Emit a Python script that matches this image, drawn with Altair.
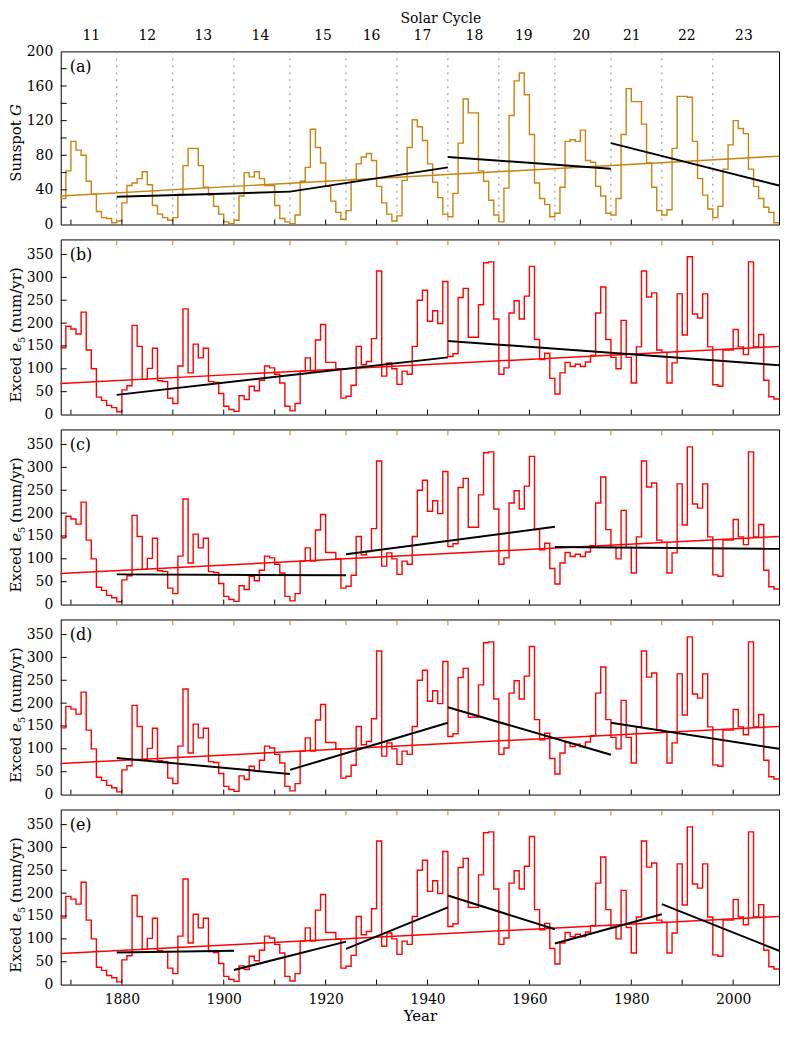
import altair as alt
import pandas as pd

# ---------------- data ----------------
years = list(range(1868, 2009))

sunspot_g = [
    30, 62, 96, 86, 80, 50, 35, 15, 8, 7,          # 1868-1877
    2, 4, 25, 45, 48, 53, 61, 46, 22, 12,          # 1878-1887
    8, 5, 8, 35, 68, 88, 88, 68, 43, 34,           # 1888-1897
    21, 12, 3, 1, 5, 33, 60, 55, 61, 53,           # 1898-1907
    45, 45, 22, 7, 3, 1, 11, 50, 66, 110,          # 1908-1917
    89, 71, 44, 27, 14, 6, 16, 52, 70, 78,         # 1918-1927
    82, 74, 44, 25, 12, 4, 10, 51, 89, 121,        # 1928-1937
    113, 97, 70, 49, 31, 12, 9, 36, 94, 145,       # 1938-1947
    129, 129, 62, 50, 28, 11, 3, 42, 126, 166,     # 1948-1957
    175, 150, 104, 48, 30, 23, 9, 13, 43, 96,      # 1958-1967
    98, 96, 109, 74, 72, 44, 33, 13, 11, 30,       # 1968-1977
    104, 157, 142, 142, 116, 71, 43, 16, 11, 17,   # 1978-1987
    88, 148, 148, 147, 96, 53, 34, 18, 8, 21,      # 1988-1997
    64, 92, 120, 111, 105, 64, 44, 30, 20, 14,     # 1998-2007
    2,                                             # 2008
]

exced_e5 = [
    146, 193, 187, 176, 224, 141, 100, 38, 31, 20,   # 1868-1877
    15, 6, 54, 63, 195, 149, 77, 101, 145, 74,       # 1878-1887
    72, 36, 24, 106, 231, 91, 154, 124, 145, 72,     # 1888-1897
    70, 46, 18, 11, 7, 41, 33, 62, 52, 75,           # 1898-1907
    106, 102, 88, 69, 18, 8, 24, 95, 124, 95,        # 1908-1917
    163, 197, 114, 114, 100, 36, 40, 64, 149, 109,   # 1918-1927
    116, 166, 314, 84, 113, 100, 66, 95, 88, 149,    # 1928-1937
    250, 272, 204, 227, 199, 291, 127, 133, 256, 276,  # 1938-1947
    169, 169, 240, 332, 334, 209, 88, 102, 222, 249,   # 1948-1957
    209, 259, 324, 164, 120, 134, 79, 45, 91, 114,     # 1958-1967
    105, 110, 105, 115, 129, 222, 279, 164, 125, 100,  # 1968-1977
    206, 125, 69, 148, 314, 257, 266, 141, 136, 69,    # 1978-1987
    113, 264, 174, 345, 220, 211, 264, 148, 65, 62,    # 1988-1997
    141, 141, 186, 148, 131, 334, 148, 175, 75, 39,    # 1998-2007
    34,                                                # 2008
]

x_domain = [1868, 2009]
year_labels = [1880, 1900, 1920, 1940, 1960, 1980, 2000]
year_minor_ticks = [1870, 1880, 1890, 1900, 1910, 1920, 1930, 1940, 1950, 1960, 1970, 1980, 1990, 2000]

cycle_bounds = [1879, 1890, 1902, 1913, 1924, 1934, 1944, 1954, 1965, 1976, 1986, 1996]
cycle_numbers = ["11", "12", "13", "14", "15", "16", "17", "18", "19", "20", "21", "22", "23"]
cycle_label_years = [1874, 1885, 1896, 1907.2, 1919.5, 1929, 1939, 1949.2, 1958.9, 1970.2, 1980.1, 1990.9, 2002.1]

trend_years = [1868, 2009]
sunspot_trend = [33, 79]
exced_trend = [68, 149]

# segments: (start year, start value, end year, end value)
segs_a = [(1879, 32, 1913, 38), (1913, 38, 1944, 66), (1944, 78, 1976, 64.5), (1976, 94, 2009, 45)]
segs_b = [(1879, 43, 1944, 125), (1944, 161, 2009, 108)]
segs_c = [(1879, 66, 1924, 64), (1924, 110, 1965, 170), (1965, 126, 2009, 122)]
segs_d = [(1879, 80, 1913, 45), (1913, 54, 1944, 157), (1944, 191, 1976, 87), (1976, 157, 2009, 100)]
segs_e = [(1879, 70, 1902, 74), (1902, 32, 1924, 94), (1924, 78, 1944, 169),
          (1944, 195, 1965, 121), (1965, 90, 1986, 154), (1986, 176, 2009, 74)]

# ---------------- style ----------------
FONT = "DejaVu Serif"
ORANGE = "#C8820F"
RED = "#FF0000"
W = 722
H_A = 174
H_B = 176

xscale = alt.Scale(domain=x_domain, nice=False, zero=False)


def one(txt):
    return pd.DataFrame({"t": [txt]})


def make_panel(letter, h, ydom, ylabels, yticks, series, color, trend_vals, segs,
               title_pieces, bottom=False, is_a=False):
    yscale = alt.Scale(domain=ydom, nice=False, zero=False)
    if bottom:
        xaxis = alt.Axis(values=year_labels, format="d", title="Year", ticks=False, domain=False,
                         grid=False, labelPadding=8, titlePadding=2, labelFontSize=14,
                         titleFontSize=15, titleFontWeight="normal", labelFlush=False)
    else:
        xaxis = alt.Axis(labels=False, ticks=False, domain=False, grid=False, title=None)
    yaxis = alt.Axis(values=ylabels, ticks=False, domain=False, grid=False, title=None,
                     labelPadding=8, labelFontSize=14)
    xe = alt.X("year:Q", scale=xscale, axis=xaxis)
    ye = alt.Y("value:Q", scale=yscale, axis=yaxis)

    layers = []
    if is_a:
        layers.append(
            alt.Chart(pd.DataFrame({"year": cycle_bounds}))
            .mark_rule(color="#8a8a8a", strokeDash=[2, 5], strokeWidth=1)
            .encode(x=xe, y=alt.value(0), y2=alt.value(h))
        )

    step_df = pd.DataFrame({"year": years + [x_domain[1]], "value": series + [series[-1]]})
    layers.append(
        alt.Chart(step_df).mark_line(interpolate="step-after", color=color, strokeWidth=1.4)
        .encode(x=xe, y=ye)
    )
    layers.append(
        alt.Chart(pd.DataFrame({"year": trend_years, "value": trend_vals}))
        .mark_line(color=color, strokeWidth=1.5).encode(x=xe, y=ye)
    )
    rows = []
    for i, (y0, v0, y1, v1) in enumerate(segs):
        rows.append({"seg": i, "year": y0, "value": v0})
        rows.append({"seg": i, "year": y1, "value": v1})
    layers.append(
        alt.Chart(pd.DataFrame(rows)).mark_line(color="black", strokeWidth=2)
        .encode(x=xe, y=ye, detail="seg:N")
    )
    # inward ticks
    layers.append(
        alt.Chart(pd.DataFrame({"year": year_minor_ticks})).mark_rule(color="black", strokeWidth=1)
        .encode(x=xe, y=alt.value(h), y2=alt.value(h - 5))
    )
    layers.append(
        alt.Chart(pd.DataFrame({"value": yticks})).mark_rule(color="black", strokeWidth=1)
        .encode(y=ye, x=alt.value(0), x2=alt.value(6))
    )
    if is_a:
        layers.append(
            alt.Chart(pd.DataFrame({"year": cycle_label_years, "t": cycle_numbers}))
            .mark_text(font=FONT, fontSize=14, baseline="alphabetic", color="black")
            .encode(x=xe, y=alt.value(-11), text="t:N")
        )
        layers.append(
            alt.Chart(one("Solar Cycle"))
            .mark_text(font=FONT, fontSize=14, baseline="alphabetic", color="black")
            .encode(x=alt.value(382), y=alt.value(-29), text="t:N")
        )
        # invisible mark that fixes the outer extent (left and top)
        layers.append(
            alt.Chart(one("x")).mark_rule(opacity=0, strokeWidth=1)
            .encode(x=alt.value(-52), x2=alt.value(-51), y=alt.value(-40), y2=alt.value(-40))
        )
    else:
        layers.append(
            alt.Chart(pd.DataFrame({"year": cycle_bounds})).mark_rule(color=ORANGE, strokeWidth=1)
            .encode(x=xe, y=alt.value(0), y2=alt.value(6))
        )
    # panel letter
    layers.append(
        alt.Chart(one(letter)).mark_text(font=FONT, fontSize=16, align="left",
                                         baseline="alphabetic", color="black")
        .encode(x=alt.value(9), y=alt.value(21), text="t:N")
    )
    # composite y title
    c = h / 2
    for txt, off, size, style, dy in title_pieces:
        layers.append(
            alt.Chart(one(txt)).mark_text(font=FONT, fontSize=size, fontStyle=style, angle=270,
                                          align="left", baseline="alphabetic", dy=dy,
                                          color="black")
            .encode(x=alt.value(-40), y=alt.value(c + off), text="t:N")
        )
    return alt.layer(*layers).properties(width=W, height=h)


title_a = [("Sunspot", 44, 15, "normal", 0), ("G", -22, 15, "italic", 0)]
title_e = [("Exced", 76, 15, "normal", 0), ("e", 25, 15, "italic", 0),
           ("5", 16, 10, "normal", 4), ("(num/yr)", 6, 15, "normal", 0)]

ylab_a = [0, 40, 80, 120, 160, 200]
ytick_a = [20, 40, 60, 80, 100, 120, 140, 160, 180]
ylab_b = [0, 50, 100, 150, 200, 250, 300, 350]
ytick_b = [50, 100, 150, 200, 250, 300, 350]
ydom_b = [0, 383]

pa = make_panel("(a)", H_A, [0, 200], ylab_a, ytick_a, sunspot_g, ORANGE, sunspot_trend, segs_a,
                title_a, is_a=True)
pb = make_panel("(b)", H_B, ydom_b, ylab_b, ytick_b, exced_e5, RED, exced_trend, segs_b, title_e)
pc = make_panel("(c)", H_B, ydom_b, ylab_b, ytick_b, exced_e5, RED, exced_trend, segs_c, title_e)
pd_ = make_panel("(d)", H_B, ydom_b, ylab_b, ytick_b, exced_e5, RED, exced_trend, segs_d, title_e)
pe = make_panel("(e)", H_B, ydom_b, ylab_b, ytick_b, exced_e5, RED, exced_trend, segs_e, title_e,
                bottom=True)

chart = (
    alt.vconcat(pa, pb, pc, pd_, pe, spacing=15, bounds="flush")
    .properties(padding={"left": 0, "top": 0, "right": 0, "bottom": 0}, background="white")
    .configure_view(stroke="black", strokeWidth=1)
    .configure_axis(labelFont=FONT, titleFont=FONT, labelColor="black", titleColor="black")
)

chart.save("out.html", embed_options={"renderer": "svg", "actions": False})
